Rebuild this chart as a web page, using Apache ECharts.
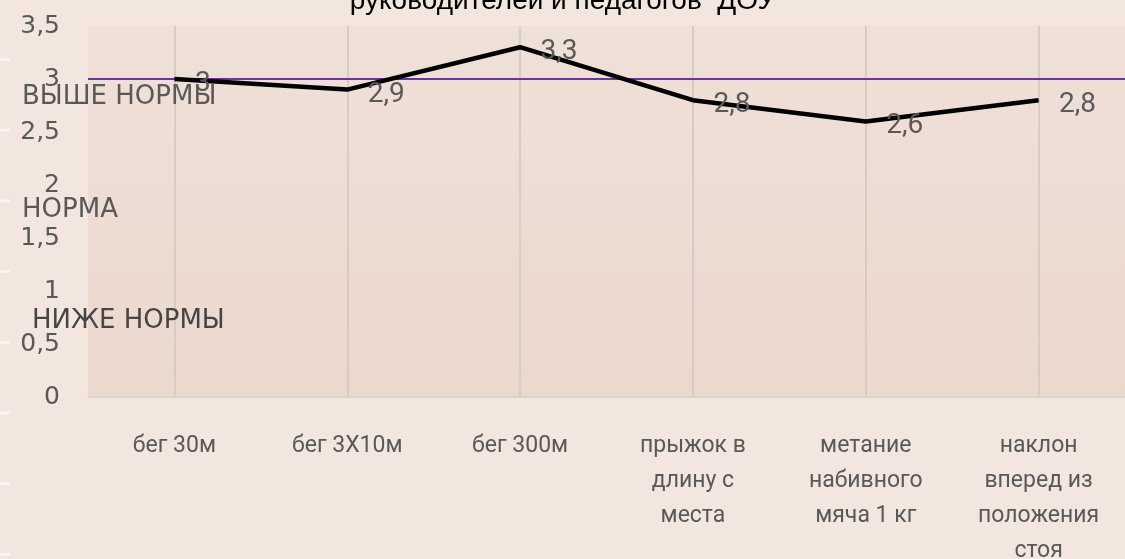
<!DOCTYPE html>
<html>
<head>
<meta charset="utf-8">
<script src="https://cdn.jsdelivr.net/npm/echarts@6/dist/echarts.min.js"></script>
<style>
    html, body { margin: 0; padding: 0; background: #F2E6DF; }
    #chart { width: 1125px; height: 559px; }
</style>
</head>
<body>
<div id="chart"></div>
<script>
;(function() {
    // data
    var categories = [
        'бег 30м',
        'бег 3Х10м',
        'бег 300м',
        'прыжок в\nдлину с\nместа',
        'метание\nнабивного\nмяча 1 кг',
        'наклон\nвперед из\nположения\nстоя'
    ];
    var values = [3, 2.9, 3.3, 2.8, 2.6, 2.8];
    var normLine = 3;
    var yTicks = { min: 0, max: 3.5, interval: 0.5 };
    var levelTexts = ['ВЫШЕ НОРМЫ', 'НОРМА', 'НИЖЕ НОРМЫ'];
    var titleText = 'руководителей и педагогов  ДОУ';

    var gray = '#595959';
    var comma = function (v) { return String(v).replace('.', ','); };

    // decorative dashes on the left edge
    var dashes = [];
    for (var i = 0; i < 8; i++) {
        dashes.push({
            type: 'rect',
            shape: { x: 0, y: 58 + i * 70.7, width: 10, height: 3 },
            style: { fill: 'rgba(255,255,255,0.55)' },
            silent: true
        });
    }

    var chart = echarts.init(document.getElementById('chart'), null, { renderer: 'canvas' });
    chart.setOption({
        backgroundColor: '#F2E6DF',
        animation: false,
        title: {
            text: titleText,
            left: 'center',
            top: -18,
            textStyle: {
                color: '#000',
                fontSize: 28,
                fontWeight: 'normal',
                fontFamily: 'Liberation Sans'
            }
        },
        grid: {
            left: 88,
            right: 0,
            top: 26,
            bottom: 162,
            outerBoundsMode: 'none',
            containLabel: false,
            show: true,
            borderWidth: 0,
            backgroundColor: new echarts.graphic.LinearGradient(0, 0, 0, 1, [
                { offset: 0, color: '#EFE0D8' },
                { offset: 1, color: '#EBD8CD' }
            ])
        },
        xAxis: {
            type: 'category',
            data: categories,
            boundaryGap: true,
            axisLine: { show: true, lineStyle: { color: '#DAD3CE', width: 2 } },
            axisTick: { show: false },
            splitLine: {
                show: true,
                alignWithLabel: true,
                lineStyle: { color: '#D6CCC6', width: 2 }
            },
            axisLabel: {
                interval: 0,
                margin: 32,
                color: gray,
                fontSize: 23,
                lineHeight: 35,
                fontFamily: 'Roboto',
                align: 'center'
            }
        },
        yAxis: {
            type: 'value',
            min: yTicks.min,
            max: yTicks.max,
            interval: yTicks.interval,
            axisLine: { show: false },
            axisTick: { show: false },
            splitLine: { show: false },
            axisLabel: {
                margin: 28,
                color: gray,
                fontSize: 25,
                fontFamily: 'DejaVu Sans',
                formatter: comma
            }
        },
        series: [{
            type: 'line',
            data: values,
            symbol: 'circle',
            symbolSize: 1,
            showSymbol: true,
            itemStyle: { color: '#000' },
            z: 5,
            lineStyle: { color: '#000', width: 4.5 },
            label: {
                show: true,
                position: 'right',
                distance: 20,
                offset: [0, 5],
                color: gray,
                fontSize: 28,
                fontFamily: 'Roboto',
                formatter: function (p) { return comma(p.value); }
            },
            markLine: {
                silent: true,
                symbol: 'none',
                z: 3,
                label: { show: false },
                lineStyle: { color: '#7030A0', width: 2, type: 'solid' },
                data: [{ yAxis: normLine }]
            }
        }],
        graphic: dashes.concat([
            {
                type: 'text', left: 22, top: 84, z: 10,
                style: { text: levelTexts[0], fill: gray, font: '26px "DejaVu Sans"' }
            },
            {
                type: 'text', left: 22, top: 197, z: 10,
                style: { text: levelTexts[1], fill: gray, font: '26px "DejaVu Sans"' }
            },
            {
                type: 'text', left: 32, top: 308, z: 10,
                style: { text: levelTexts[2], fill: '#454545', font: '26px "DejaVu Sans"' }
            }
        ])
    });
})()
</script>
</body>
</html>
